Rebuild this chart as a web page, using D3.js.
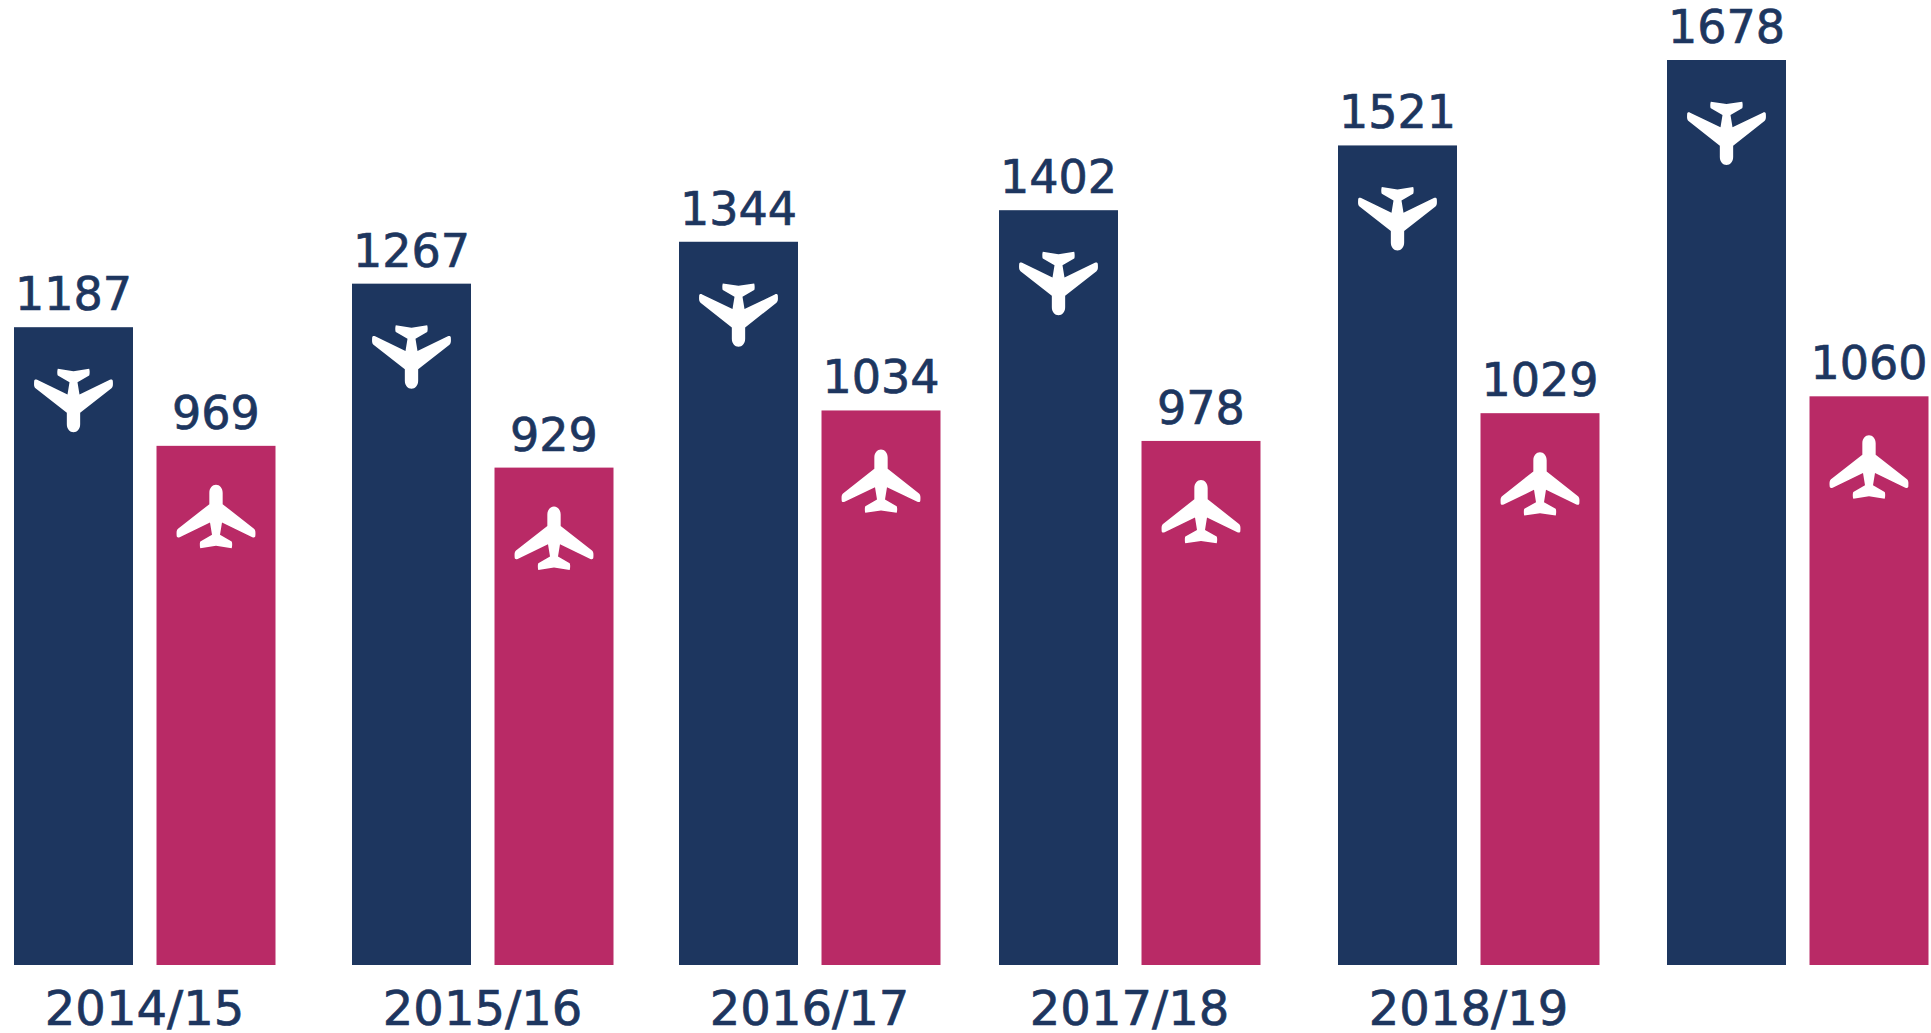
<!DOCTYPE html>
<html><head><meta charset="utf-8">
<script src="https://cdnjs.cloudflare.com/ajax/libs/d3/7.8.5/d3.min.js"></script>
<style>html,body{margin:0;padding:0;background:#fff;overflow:hidden}svg{display:block}text{font-family:"DejaVu Sans",sans-serif;fill:#1d365f;stroke:#1d365f;stroke-width:0.7px}</style>
</head><body><svg id="c" width="1931" height="1033"></svg>
<script>
const seasons = ["2014/15","2015/16","2016/17","2017/18","2018/19","2019/20"];
const seasonLabels = ["2014/15","2015/16","2016/17","2017/18","2018/19",""];
const seriesNames = ["navy","crimson"];
const navyValues = [1187,1267,1344,1402,1521,1678];
const crimsonValues = [969,929,1034,978,1029,1060];

const svg = d3.select("#c");
const colour = d3.scaleOrdinal(seriesNames, ["#1d365f","#b92a66"]);
const groupX = d3.scaleOrdinal(seasons, [14,352,679,999,1338,1667]);
const barX = d3.scaleBand(seriesNames, [0,261.5]).paddingInner(0.165);
const y = d3.scaleLinear([15,1678],[965,60]);
const planePath = "M0,0C11,0 20,10 20,24L20,58L114,132C118,136 119,140 118,153C118,158 114,159 109,157L18,113L12,150L47,170C49,172 49,186 47,190L0,183L-47,190C-49,186 -49,172 -47,170L-12,150L-18,113L-109,157C-114,159 -118,158 -118,153C-119,140 -118,136 -114,132L-20,58L-20,24C-20,10 -11,0 0,0Z";

const rows = seasons.flatMap((s,i)=>[
  {season:s,series:"navy",value:navyValues[i]},
  {season:s,series:"crimson",value:crimsonValues[i]}
]);
const g = svg.selectAll("g.bar").data(rows).join("g").attr("class","bar")
  .attr("transform",d=>`translate(${groupX(d.season)+barX(d.series)},0)`);
g.append("rect").attr("y",d=>y(d.value)).attr("width",barX.bandwidth())
  .attr("height",d=>y.range()[0]-y(d.value)).attr("fill",d=>colour(d.series));
g.append("text").attr("x",barX.bandwidth()/2).attr("y",d=>y(d.value)-17)
  .attr("text-anchor","middle").attr("font-size",46).text(d=>d.value);
g.append("path").attr("d",planePath).attr("fill","#fff")
  .attr("transform",d=>d.series==="crimson"
    ? `translate(${barX.bandwidth()/2},${y(d.value)+39}) scale(${1/3})`
    : `translate(${barX.bandwidth()/2},${y(d.value)+105}) rotate(180) scale(${1/3})`);

svg.selectAll("text.season").data(seasons).join("text").attr("class","season")
  .attr("x",s=>groupX(s)+130.5).attr("y",1025).attr("text-anchor","middle")
  .attr("font-size",48).text((s,i)=>seasonLabels[i]);
</script></body></html>
